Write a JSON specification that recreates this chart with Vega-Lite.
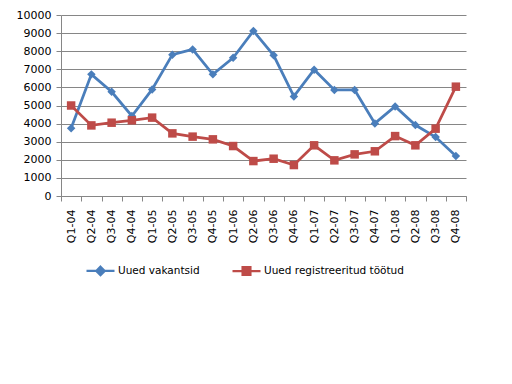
{
  "$schema": "https://vega.github.io/schema/vega-lite/v6.json",
  "width": 405,
  "height": 181,
  "autosize": {"type": "none"},
  "padding": {"left": 61, "top": 15, "right": 46, "bottom": 188},
  "background": "white",
  "config": {
    "view": {"stroke": null},
    "font": "DejaVu Sans"
  },
  "data": {
    "values": [
      {"q": "Q1-04", "s": "Uued vakantsid", "v": 3740},
      {"q": "Q2-04", "s": "Uued vakantsid", "v": 6720},
      {"q": "Q3-04", "s": "Uued vakantsid", "v": 5760},
      {"q": "Q4-04", "s": "Uued vakantsid", "v": 4420},
      {"q": "Q1-05", "s": "Uued vakantsid", "v": 5890},
      {"q": "Q2-05", "s": "Uued vakantsid", "v": 7810},
      {"q": "Q3-05", "s": "Uued vakantsid", "v": 8100},
      {"q": "Q4-05", "s": "Uued vakantsid", "v": 6720},
      {"q": "Q1-06", "s": "Uued vakantsid", "v": 7640},
      {"q": "Q2-06", "s": "Uued vakantsid", "v": 9120},
      {"q": "Q3-06", "s": "Uued vakantsid", "v": 7770},
      {"q": "Q4-06", "s": "Uued vakantsid", "v": 5500},
      {"q": "Q1-07", "s": "Uued vakantsid", "v": 6980},
      {"q": "Q2-07", "s": "Uued vakantsid", "v": 5860},
      {"q": "Q3-07", "s": "Uued vakantsid", "v": 5860},
      {"q": "Q4-07", "s": "Uued vakantsid", "v": 4010},
      {"q": "Q1-08", "s": "Uued vakantsid", "v": 4950},
      {"q": "Q2-08", "s": "Uued vakantsid", "v": 3920},
      {"q": "Q3-08", "s": "Uued vakantsid", "v": 3260},
      {"q": "Q4-08", "s": "Uued vakantsid", "v": 2210},
      {"q": "Q1-04", "s": "Uued registreeritud töötud", "v": 5000},
      {"q": "Q2-04", "s": "Uued registreeritud töötud", "v": 3900},
      {"q": "Q3-04", "s": "Uued registreeritud töötud", "v": 4050},
      {"q": "Q4-04", "s": "Uued registreeritud töötud", "v": 4180},
      {"q": "Q1-05", "s": "Uued registreeritud töötud", "v": 4330},
      {"q": "Q2-05", "s": "Uued registreeritud töötud", "v": 3460},
      {"q": "Q3-05", "s": "Uued registreeritud töötud", "v": 3280},
      {"q": "Q4-05", "s": "Uued registreeritud töötud", "v": 3130},
      {"q": "Q1-06", "s": "Uued registreeritud töötud", "v": 2760},
      {"q": "Q2-06", "s": "Uued registreeritud töötud", "v": 1930},
      {"q": "Q3-06", "s": "Uued registreeritud töötud", "v": 2060},
      {"q": "Q4-06", "s": "Uued registreeritud töötud", "v": 1710},
      {"q": "Q1-07", "s": "Uued registreeritud töötud", "v": 2800},
      {"q": "Q2-07", "s": "Uued registreeritud töötud", "v": 1970},
      {"q": "Q3-07", "s": "Uued registreeritud töötud", "v": 2300},
      {"q": "Q4-07", "s": "Uued registreeritud töötud", "v": 2470},
      {"q": "Q1-08", "s": "Uued registreeritud töötud", "v": 3310},
      {"q": "Q2-08", "s": "Uued registreeritud töötud", "v": 2800},
      {"q": "Q3-08", "s": "Uued registreeritud töötud", "v": 3720},
      {"q": "Q4-08", "s": "Uued registreeritud töötud", "v": 6040}
    ]
  },
  "encoding": {
    "x": {
      "field": "q",
      "type": "nominal",
      "sort": null,
      "title": null,
      "scale": {"type": "band", "paddingInner": 0, "paddingOuter": 0},
      "axis": {
        "labelAngle": -90,
        "labelFont": "DejaVu Sans",
        "labelFontSize": 11,
        "labelColor": "#000000",
        "labelPadding": 8,
        "tickBand": "extent",
        "tickSize": 5,
        "tickColor": "#868686",
        "domainColor": "#868686",
        "grid": false
      }
    },
    "y": {
      "field": "v",
      "type": "quantitative",
      "title": null,
      "scale": {"domain": [0, 10000], "nice": false},
      "axis": {
        "values": [0, 1000, 2000, 3000, 4000, 5000, 6000, 7000, 8000, 9000, 10000],
        "format": "d",
        "labelFont": "DejaVu Sans",
        "labelFontSize": 11,
        "labelColor": "#000000",
        "labelPadding": 5,
        "tickSize": 5,
        "tickColor": "#868686",
        "domainColor": "#868686",
        "grid": true,
        "gridColor": "#868686",
        "gridOpacity": 1
      }
    },
    "color": {
      "field": "s",
      "type": "nominal",
      "title": null,
      "scale": {
        "domain": ["Uued vakantsid", "Uued registreeritud töötud"],
        "range": ["#4A7EBB", "#BE4B48"]
      },
      "legend": {
        "orient": "none",
        "legendX": 24,
        "legendY": 240,
        "direction": "horizontal",
        "padding": 0,
        "symbolSize": 784,
        "labelFont": "DejaVu Sans",
        "labelFontSize": 10.5,
        "labelColor": "#000000",
        "labelOffset": 2,
        "columnPadding": 28,
        "labelLimit": 300,
        "encode": {
          "symbols": {
            "update": {
              "shape": {"signal": "datum.value === 'Uued vakantsid' ? 'M-1,0L1,0M0,-0.3L0.3,0L0,0.3L-0.3,0Z' : 'M-1,0L1,0M-0.28,-0.28L0.28,-0.28L0.28,0.28L-0.28,0.28Z'"},
              "fill": {"signal": "scale('color', datum.value)"},
              "stroke": {"signal": "scale('color', datum.value)"},
              "strokeWidth": {"value": 2.25},
              "size": {"value": 784},
              "opacity": {"value": 1}
            }
          }
        }
      }
    }
  },
  "layer": [
    {
      "mark": {"type": "line", "strokeWidth": 2.75}
    },
    {
      "transform": [{"filter": "datum.s === 'Uued vakantsid'"}],
      "mark": {"type": "point", "shape": "diamond", "filled": true, "opacity": 1, "size": 72}
    },
    {
      "transform": [{"filter": "datum.s === 'Uued registreeritud töötud'"}],
      "mark": {"type": "point", "shape": "square", "filled": true, "opacity": 1, "size": 72}
    }
  ]
}
